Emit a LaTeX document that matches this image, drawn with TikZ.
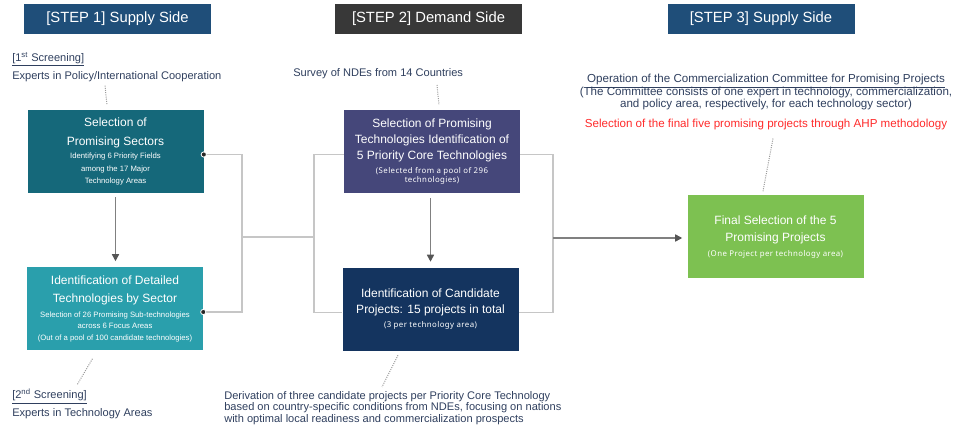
\documentclass[tikz,border=0pt]{standalone}
\usepackage{fontspec}
\setmainfont{Liberation Sans}
\newfontfamily\gothic[LetterSpace=5]{Noto Sans}
\usetikzlibrary{arrows.meta,positioning}

\definecolor{stepblue}{HTML}{1F4E79}
\definecolor{stepgray}{HTML}{383838}
\definecolor{secc}{HTML}{15687A}
\definecolor{detc}{HTML}{2A9FAC}
\definecolor{corec}{HTML}{45477A}
\definecolor{candc}{HTML}{14345F}
\definecolor{finc}{HTML}{7DC151}
\definecolor{notec}{HTML}{2F3F5E}
\definecolor{redc}{HTML}{FF2A2A}
\definecolor{linec}{HTML}{C6C6C6}
\definecolor{tipc}{HTML}{555555}

% line fonts: baselineskip is zero, so \\[d] gives the baseline gap d
\newcommand\tightlines{\baselineskip=0pt\relax\lineskiplimit=-20pt\relax\lineskip=0pt\relax}
\newcommand\bt{\fontsize{9}{0pt}\selectfont}
\newcommand\bs{\fontsize{5.8}{0pt}\selectfont}
\newcommand\bg{\gothic\fontsize{5.9}{0pt}\selectfont}
\newcommand\nt{\fontsize{8.3}{0pt}\selectfont}
\newcommand\cm{\fontsize{8.7}{0pt}\selectfont}

\begin{document}
\begin{tikzpicture}[x=0.75pt,y=-0.75pt,
  stephead/.style={fill=#1,text=white,minimum width=140.25pt,minimum height=22.5pt,inner sep=0pt,font=\fontsize{11.1}{13}\selectfont},
  box/.style={fill=#1,text=white,minimum width=132pt,minimum height=62.25pt,inner sep=0pt,align=center,font=\tightlines},
  note/.style={text=notec,inner sep=0pt,font=\tightlines},
  link/.style={draw=linec,line width=1.1pt},
  tip/.style={-{Triangle[length=5.25pt,width=5.25pt,fill=tipc,color=tipc]}},
  dots/.style={draw=gray!80,line width=0.75pt,dash pattern=on 0.75pt off 0.9pt},
  knob/.style={fill=black!85,draw=white,line width=0.6pt}]
\useasboundingbox (0,0) rectangle (956,434);

% step headers
\node[stephead=stepblue] (hdr1) at (117.5,19) {[STEP 1] Supply Side};
\node[stephead=stepgray] (hdr2) at (428.5,19) {[STEP 2] Demand Side};
\node[stephead=stepblue] (hdr3) at (761,19) {[STEP 3] Supply Side};

% boxes
\node[box=secc] (sectors) at (115.5,151.5) {\bt Selection of\\[14.25pt]\bt Promising Sectors\\[9.75pt]
  \bs Identifying 6 Priority Fields\\[9.5pt]\bs among the 17 Major\\[9pt]\bs Technology Areas};
\node[box=detc] (detail) at (115,309) {\bt Identification of Detailed\\[13.5pt]\bt Technologies by Sector\\[11pt]
  \bs Selection of 26 Promising Sub-technologies\\[8.25pt]\bs across 6 Focus Areas\\[8.75pt]
  \bs (Out of a pool of 100 candidate technologies)};
\node[box=corec] (coretech) at (432,151.5) {\bt Selection of Promising\\[12pt]\bt Technologies Identification of\\[12pt]
  \bt 5 Priority Core Technologies\\[10.5pt]\bg (Selected from a pool of 296\\[6.6pt]\bg technologies)};
\node[box=candc] (candidates) at (430.5,309.5) {\bt Identification of Candidate\\[12pt]
  \bt Projects: 15 projects in total\\[10.5pt]\bg (3 per technology area)};
\node[box=finc] (final) at (775.5,237) {\bt Final Selection of the 5\\[12.75pt]\bt Promising Projects\\[11pt]
  \bg (One Project per technology area)};

% notes
\node[note,anchor=north west,align=left] (screen1) at (12,52)
  {\nt\underline{[1\textsuperscript{st} Screening]}\\[13.5pt]\nt Experts in Policy/International Cooperation};
\node[note,anchor=north west,align=left] (screen2) at (12,389)
  {\nt\underline{[2\textsuperscript{nd} Screening]}\\[13.5pt]\nt Experts in Technology Areas};
\node[note,anchor=base west] (survey) at (293,77) {\nt Survey of NDEs from 14 Countries};
\node[note,anchor=north west,align=left] (derive) at (224,391)
  {\nt Derivation of three candidate projects per Priority Core Technology\\[8.6pt]
   \nt based on country-specific conditions from NDEs, focusing on nations\\[8.6pt]
   \nt with optimal local readiness and commercialization prospects};
\node[note,anchor=north,align=center] (committee) at (766,74)
  {\cm\underline{Operation of the Commercialization Committee for Promising Projects}\\[9.6pt]
   \cm (The Committee consists of one expert in technology, commercialization,\\[9.3pt]
   \cm and policy area, respectively, for each technology sector)\\[15pt]
   \cm\color{redc}Selection of the final five promising projects through AHP methodology};

% junctions
\coordinate (jl) at (242,237);
\coordinate (jm) at (314,237);
\coordinate (jr) at (553,238);

% connectors
\draw[link] ([yshift=-2.25pt]sectors.east) -| (jl) |- ([yshift=-2.25pt]detail.east);
\draw[link] (jl) -- (jm);
\draw[link] ([yshift=-2.25pt]coretech.west) -| (jm) |- ([yshift=-2.25pt]candidates.west);
\draw[link] ([yshift=-2.25pt]coretech.east) -| (jr) |- ([yshift=-2.25pt]candidates.east);
\draw[link,draw=gray,tip,shorten >=3.75pt] (jr) -- (final.west |- jr);
\draw[link,draw=gray,tip,shorten <=3pt,shorten >=4.5pt] (sectors.south) -- (sectors.south |- detail.north);
\draw[link,draw=gray,tip,shorten <=3.75pt,shorten >=4.5pt] (coretech.south -| candidates) -- (candidates.north);
\foreach \b in {sectors,detail}
  \filldraw[knob] ([yshift=-2.25pt]\b.east) circle (1.95pt);

% dotted leaders
\draw[dots] ([xshift=69.75pt,yshift=-3pt]screen1.south west) -- ([xshift=-6.4pt,yshift=3.75pt]sectors.north);
\draw[dots] ([xshift=-16.9pt,yshift=-6pt]detail.south) -- ([xshift=48.75pt,yshift=3pt]screen2.north west);
\draw[dots] ([xshift=108pt,yshift=-6pt]survey.base west) -- ([xshift=5.25pt,yshift=3.75pt]coretech.north);
\draw[dots] ([xshift=-24.4pt,yshift=-3pt]candidates.south) -- ([xshift=118.5pt,yshift=3pt]derive.north west);
\draw[dots] ([xshift=5.25pt,yshift=-6pt]committee.south) -- ([xshift=-9.4pt,yshift=3pt]final.north);
\end{tikzpicture}
\end{document}
